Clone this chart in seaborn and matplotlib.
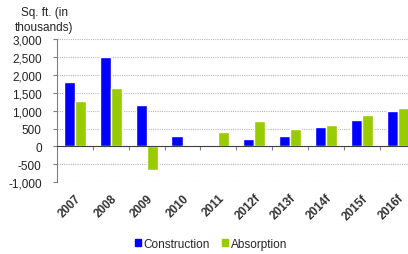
import matplotlib
matplotlib.use("Agg")
import matplotlib.pyplot as plt
from matplotlib.ticker import FuncFormatter, MultipleLocator, FixedLocator
import seaborn as sns
import pandas as pd

years = ["2007", "2008", "2009", "2010", "2011", "2012f", "2013f", "2014f", "2015f", "2016f"]
construction = [1800, 2500, 1150, 300, 0, 200, 300, 550, 750, 980]
absorption = [1270, 1650, -650, 50, 400, 700, 500, 600, 880, 1080]

df = pd.DataFrame({
    "year": years * 2,
    "value": construction + absorption,
    "series": ["Construction"] * len(years) + ["Absorption"] * len(years),
})

sns.set_style("white")
plt.rcParams["font.family"] = ["Liberation Sans", "DejaVu Sans"]

fig = plt.figure(figsize=(4.08, 2.55), dpi=100)
ax = fig.add_axes([0.1397, 0.2824, 0.879, 0.5588])

sns.barplot(data=df, x="year", y="value", hue="series",
            palette={"Construction": "#0000FF", "Absorption": "#99CC00"},
            width=0.62, gap=0, saturation=1, ax=ax, legend=False)

ax.set_xlim(-0.5, len(years) - 0.5)
ax.set_ylim(-1000, 3000)
ax.yaxis.set_major_locator(MultipleLocator(500))
ax.yaxis.set_major_formatter(FuncFormatter(lambda v, p: f"{int(v):,}"))
ax.grid(axis="y", linestyle=(0, (1, 1)), color="#b8b8b8", linewidth=0.8)
ax.set_axisbelow(True)

for s in ["top", "right"]:
    ax.spines[s].set_visible(False)
ax.spines["left"].set_color("#808080")
ax.spines["left"].set_linewidth(0.8)
ax.spines["bottom"].set_position(("data", 0))
ax.spines["bottom"].set_color("#404040")
ax.spines["bottom"].set_linewidth(0.8)

ax.tick_params(axis="y", left=True, length=3, width=0.8, color="#808080",
               labelsize=8.5, pad=8, labelcolor="#222222")
# boundary ticks on the zero line, no labels
ax.xaxis.set_major_locator(FixedLocator([i + 0.5 for i in range(len(years) - 1)]))
ax.tick_params(axis="x", bottom=True, length=3, width=0.8, color="#808080",
               labelbottom=False)
ax.set_xlabel("")
ax.set_ylabel("")

# category labels under the plot
sec = ax.secondary_xaxis("bottom")
sec.set_xticks(range(len(years)))
sec.set_xticklabels(years, rotation=45, ha="right", va="top",
                    rotation_mode="anchor", fontsize=8.5,
                    fontweight="bold", color="#333333")
sec.tick_params(length=0, pad=7)
sec.spines["bottom"].set_visible(False)

fig.text(0.108, 0.92, "Sq. ft. (in\nthousands)", ha="center", va="center",
         fontsize=8.5, color="#222222", linespacing=1.3)

handles = [plt.Rectangle((0, 0), 1, 1, color="#0000FF"),
           plt.Rectangle((0, 0), 1, 1, color="#99CC00")]
fig.legend(handles, ["Construction", "Absorption"], loc="center",
           bbox_to_anchor=(211 / 408, 1 - 245 / 255), ncol=2, frameon=False,
           fontsize=8.5, handlelength=0.55, handleheight=0.55, handletextpad=0.2,
           columnspacing=1.0)

fig.savefig("out.png", dpi=100)
